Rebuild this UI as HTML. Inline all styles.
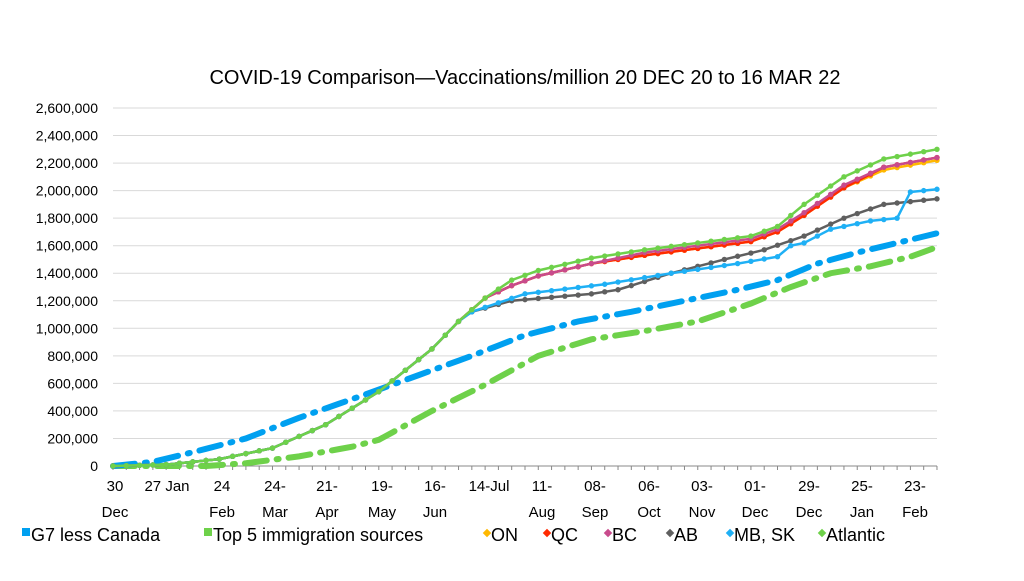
<!DOCTYPE html>
<html><head><meta charset="utf-8"><style>
body{margin:0;background:#fff;}
svg text{font-family:"Liberation Sans",sans-serif;fill:#000;}
</style></head><body>
<svg id="c" width="1024" height="576" xmlns="http://www.w3.org/2000/svg"></svg>
<script>
const s=document.getElementById('c');let h='';
const X0=113,DX=13.29,Y0=466,PY=358/2.6;
const X=i=>X0+i*DX,Y=v=>Y0-v*PY;
h+='<text x="525" y="84" font-size="20" text-anchor="middle">COVID-19 Comparison\u2014Vaccinations/million 20 DEC 20 to 16 MAR 22</text>';
for(let k=0;k<=13;k++){const v=k*0.2,y=Y(v);
 if(k>0)h+=`<line x1="${X0}" x2="937" y1="${y}" y2="${y}" stroke="#d9d9d9" stroke-width="1"/>`;
 h+=`<text x="98" y="${y+5}" font-size="14" text-anchor="end">${k==0?'0':(k*200000).toLocaleString('en-US')}</text>`;}
h+=`<line x1="${X0}" x2="937" y1="${Y0}" y2="${Y0}" stroke="#888"/>`;
for(let i=0;i<=62;i++)h+=`<line x1="${X(i)}" x2="${X(i)}" y1="${Y0}" y2="${Y0+4}" stroke="#888"/>`;
const lab=[[115,'30','Dec'],[167,'27 Jan',''],[222,'24','Feb'],[275,'24-','Mar'],[327,'21-','Apr'],[382,'19-','May'],[435,'16-','Jun'],[489,'14-Jul',''],[542,'11-','Aug'],[595,'08-','Sep'],[649,'06-','Oct'],[702,'03-','Nov'],[755,'01-','Dec'],[809,'29-','Dec'],[862,'25-','Jan'],[915,'23-','Feb']];
lab.forEach(l=>{h+=`<text x="${l[0]}" y="491" font-size="15" text-anchor="middle">${l[1]}</text>`;if(l[2])h+=`<text x="${l[0]}" y="517" font-size="15" text-anchor="middle">${l[2]}</text>`;});
function interp(kp){const o=[];for(let i=0;i<=62;i++){let j=0;while(j<kp.length-1&&kp[j+1][0]<i)j++;const a=kp[j],b=kp[Math.min(j+1,kp.length-1)];const t=b[0]==a[0]?0:(i-a[0])/(b[0]-a[0]);o.push(a[1]+(b[1]-a[1])*Math.max(0,Math.min(1,t)));}return o;}
const base=[[0,0],[4,0.01],[8,0.05],[12,0.13],[16,0.3],[20,0.54],[24,0.85],[26,1.05],[28,1.22],[30,1.31],[32,1.38],[36,1.47],[40,1.53],[44,1.58],[48,1.63],[50,1.7],[52,1.82],[55,2.02],[58,2.15],[62,2.22]];
const early=base.filter(p=>p[0]<=26).concat([[27,1.12]]);
const ser=[
 {c:'#ffb800',k:base},
 {c:'#ff2a00',k:base.map(p=>[p[0],p[0]>=58?p[1]+0.02:p[1]])},
 {c:'#c84b8c',k:base.map(p=>[p[0],p[0]>=40?p[1]+0.02:p[1]])},
 {c:'#5f5f5f',k:early.concat([[30,1.2],[36,1.25],[38,1.28],[42,1.4],[46,1.5],[49,1.57],[52,1.67],[55,1.8],[58,1.9],[62,1.94]])},
 {c:'#1fb0f5',k:early.concat([[31,1.25],[37,1.32],[42,1.4],[47,1.47],[50,1.52],[51,1.6],[52,1.62],[54,1.72],[57,1.78],[59,1.8],[60,1.99],[62,2.01]])},
 {c:'#6ed14a',k:base.map(p=>[p[0],p[0]>=30?p[1]+(p[0]>=52?0.08:0.04):p[1]]).concat([[62,2.33]])},
];
const g7=[[0,0],[3,0.03],[6,0.1],[10,0.2],[14,0.35],[19,0.52],[23,0.66],[27,0.8],[31,0.95],[35,1.05],[39,1.12],[43,1.2],[47,1.28],[50,1.35],[53,1.47],[56,1.55],[59,1.62],[62,1.69]];
const t5=[[0,0],[7,0],[10,0.02],[14,0.07],[18,0.14],[20,0.19],[24,0.4],[28,0.59],[32,0.8],[36,0.92],[40,0.98],[44,1.05],[48,1.18],[51,1.3],[54,1.4],[57,1.45],[60,1.52],[62,1.59]];
[[t5,'#6ed14a'],[g7,'#00a0f0']].forEach(([k,c])=>{const d=interp(k);h+=`<polyline fill="none" stroke="${c}" stroke-width="6" stroke-linecap="round" stroke-dasharray="22 10 2 10" points="${d.map((v,i)=>X(i)+','+Y(v)).join(' ')}"/>`;});
ser.forEach(o=>{const d=interp(o.k);h+=`<polyline fill="none" stroke="${o.c}" stroke-width="2.5" points="${d.map((v,i)=>X(i)+','+Y(v)).join(' ')}"/>`;d.forEach((v,i)=>h+=`<circle cx="${X(i)}" cy="${Y(v)}" r="2.7" fill="${o.c}"/>`);});
const leg=[[22,'#00a0f0','G7 less Canada','sq'],[204,'#6ed14a','Top 5 immigration sources','sq'],[487,'#ffb800','ON','d'],[547,'#ff2a00','QC','d'],[608,'#c84b8c','BC','d'],[670,'#5f5f5f','AB','d'],[730,'#1fb0f5','MB, SK','d'],[822,'#6ed14a','Atlantic','d']];
leg.forEach(([x,c,t,m])=>{if(m=='sq')h+=`<rect x="${x}" y="528" width="8" height="8" fill="${c}"/>`;else h+=`<rect x="${x-3}" y="530" width="6" height="6" fill="${c}" transform="rotate(45 ${x} 533)"/>`;h+=`<text x="${x+(m=='sq'?9:4)}" y="541" font-size="18">${t}</text>`;});
s.innerHTML=h;
</script>
</body></html>
